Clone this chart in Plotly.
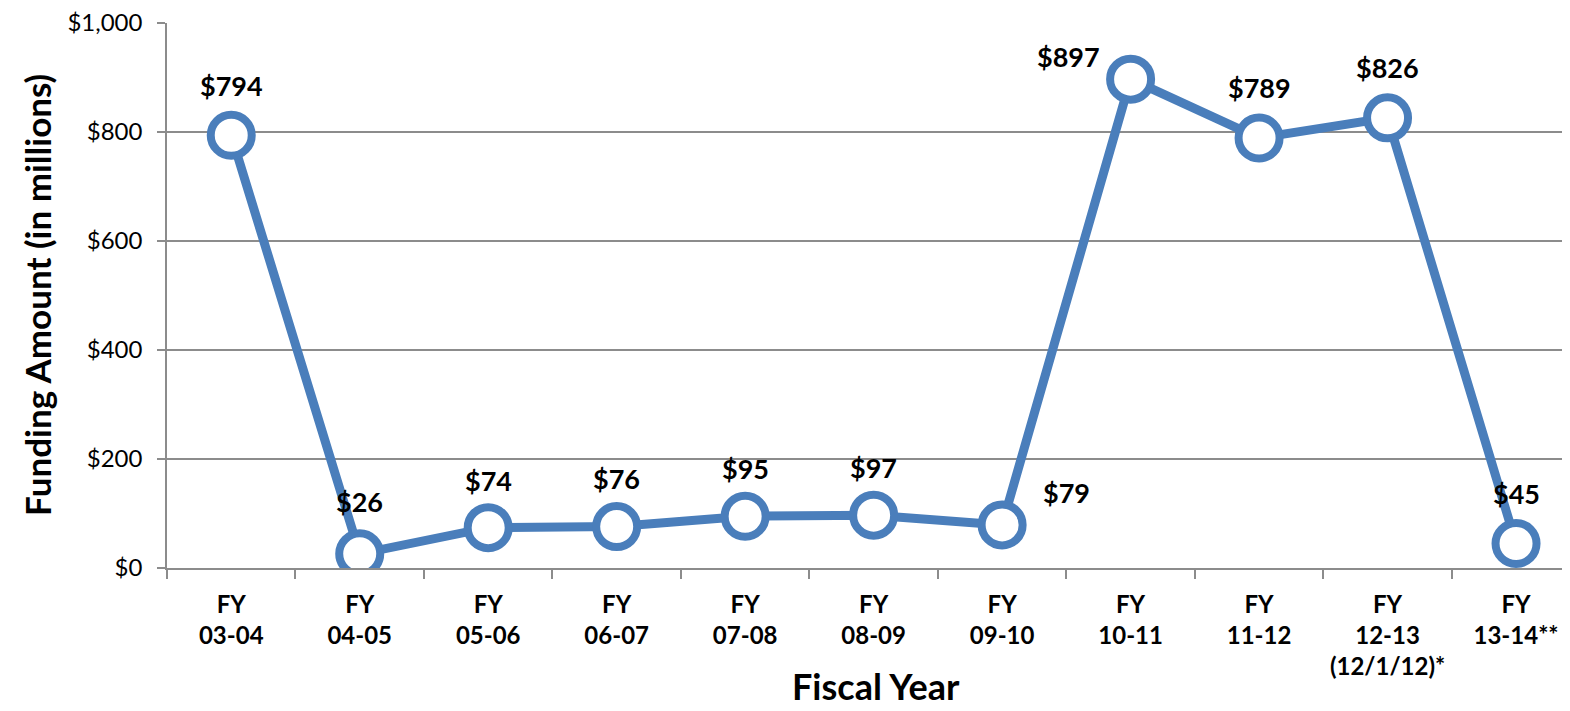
import plotly.graph_objects as go

categories = ["FY<br>03-04", "FY<br>04-05", "FY<br>05-06", "FY<br>06-07", "FY<br>07-08",
              "FY<br>08-09", "FY<br>09-10", "FY<br>10-11", "FY<br>11-12",
              "FY<br>12-13<br>(12/1/12)*", "FY<br>13-14**"]
funding = [794, 26, 74, 76, 95, 97, 79, 897, 789, 826, 45]
label_text = ["$794", "$26", "$74", "$76", "$95", "$97", "$79", "$897", "$789", "$826", "$45"]
label_dx = [0, 0, 0, 0, 0, 0, 64, -62, 0, 0, 0]
label_dy = [50, 52, 47, 48, 48, 48, 32, 23, 50, 50, 50]

FONT = "Lato"
BLUE = "#4A7EBB"
GRID = "#8C8C8C"

# page body has an 8px default margin, so the figure is 8px smaller
W, H = 1562, 703

fig = go.Figure()
fig.add_trace(go.Scatter(
    x=categories, y=funding, mode="lines+markers",
    line=dict(color=BLUE, width=9),
    marker=dict(size=41, color="white", line=dict(color=BLUE, width=8)),
    hoverinfo="skip", showlegend=False,
))

annotations = []
for c, v, t, dx, dy in zip(categories, funding, label_text, label_dx, label_dy):
    annotations.append(dict(x=c, y=v, xref="x", yref="y", text="<b>%s</b>" % t,
                            showarrow=False, xshift=dx, yshift=dy,
                            font=dict(family=FONT, size=27, color="black")))

annotations.append(dict(x=0.505, y=-0.216, xref="paper", yref="paper",
                        text="<b>Fiscal Year</b>", showarrow=False,
                        xanchor="center", yanchor="middle",
                        font=dict(family=FONT, size=36, color="black")))
annotations.append(dict(x=-0.0927, y=0.501, xref="paper", yref="paper",
                        text="<b>Funding Amount (in millions)</b>", showarrow=False,
                        textangle=-90, xanchor="center", yanchor="middle",
                        font=dict(family=FONT, size=35, color="black")))

fig.update_layout(
    width=W, height=H,
    margin=dict(l=159, r=0, t=15, b=143),
    paper_bgcolor="white", plot_bgcolor="white",
    font=dict(family=FONT, color="black"),
    annotations=annotations,
    xaxis=dict(
        type="category", range=[-0.5, 10.42],
        tickson="boundaries", ticks="outside", ticklen=9, tickcolor=GRID, tickwidth=1.5,
        showline=True, linecolor=GRID, linewidth=1.5,
        showgrid=False, zeroline=False,
        tickfont=dict(family=FONT, size=24, color="black"),
        tickprefix="<b>", ticksuffix="</b>",
        ticklabelstandoff=14,
    ),
    yaxis=dict(
        range=[0, 1000], dtick=200, tick0=0,
        tickprefix="$", tickformat=",",
        ticks="outside", ticklen=8, tickcolor=GRID, tickwidth=1.5,
        showline=True, linecolor=GRID, linewidth=1.5,
        showgrid=True, gridcolor=GRID, gridwidth=1.5,
        zeroline=False,
        tickfont=dict(family=FONT, size=24, color="black"),
        ticklabelstandoff=10,
        ticklabeloverflow="allow",
    ),
)

fig.write_html("out.html")
